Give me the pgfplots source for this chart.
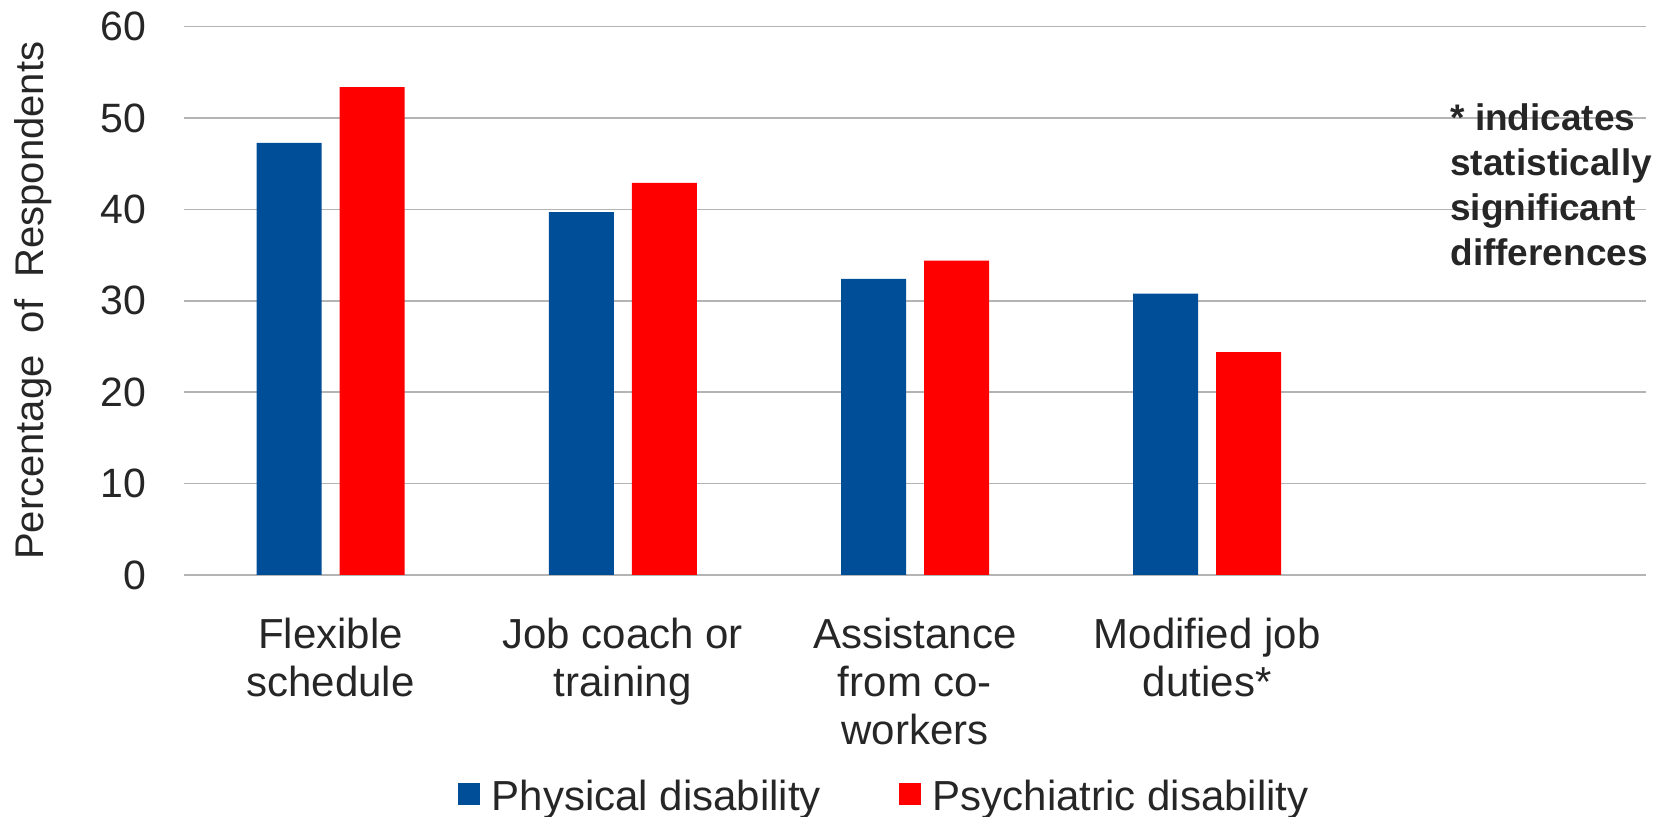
\documentclass[border=0pt]{standalone}
\usepackage{fontspec}
\setmainfont{Liberation Sans}
\usepackage{pgfplots}
\pgfplotsset{compat=1.18}
\definecolor{physblue}{HTML}{004E98}
\definecolor{psyred}{HTML}{FF0000}
\definecolor{gridgray}{HTML}{B4B4B4}
\definecolor{txt}{HTML}{262626}
\begin{document}
\begin{tikzpicture}
\begin{axis}[
  name=ax, at={(0,0)}, anchor=south west,
  scale only axis, width=730.5pt, height=274.15pt,
  xmin=-0.5, xmax=4.5, ymin=0, ymax=60,
  ytick={0,10,...,60},
  xtick={0,1,2,3},
  xticklabels={{Flexible\\schedule},{Job coach or\\training},{Assistance\\from co-\\workers},{Modified job\\duties*}},
  /pgf/number format/assume math mode=true,
  axis line style={draw=none},
  tick style={draw=none},
  ymajorgrids,
  grid style={gridgray, line width=0.8pt},
  yticklabel style={font=\fontsize{20.5}{24}\selectfont, text=txt, inner sep=0pt, anchor=east, xshift=-18.75pt},
  xticklabel style={font=\fontsize{21}{24}\selectfont, text=txt, align=center, inner sep=0pt, anchor=north, yshift=-17pt},
  ybar=9pt, bar width=32.5pt,
  legend columns=2,
  legend style={at={(axis description cs:0.187,-0.3735)}, anchor=north west, draw=none, inner sep=0pt, outer sep=0pt,
    font=\fontsize{21}{24}\selectfont, text=txt, nodes={inner sep=0pt},
    /tikz/every odd column/.append style={column sep=6pt},
    /tikz/every even column/.append style={column sep=39pt}},
  legend image code/.code={\fill[#1] (0pt,-4pt) rectangle (11pt,7pt);},
]
\addplot[fill=physblue, draw=none] coordinates {(0,47.3) (1,39.7) (2,32.4) (3,30.8)};
\addplot[fill=psyred, draw=none] coordinates {(0,53.4) (1,42.9) (2,34.4) (3,24.4)};
\legend{Physical disability, Psychiatric disability}
\end{axis}
\node[rotate=90, anchor=center, text=txt, font=\fontsize{20}{23}\selectfont] at ([shift={(-75.5pt,137.1pt)}]ax.south west) {Percentage\ \ of\ \ Respondents};
\node[anchor=north west, align=left, inner sep=0pt, text=txt, font=\bfseries\fontsize{18.5}{22.5}\selectfont] at ([shift={(632.75pt,236pt)}]ax.south west) {* indicates\\statistically\\significant\\differences};
\pgfresetboundingbox
\useasboundingbox ([shift={(-92.25pt,-121pt)}]ax.south west) rectangle ++(835.5pt,408.5pt);
\end{tikzpicture}
\end{document}
